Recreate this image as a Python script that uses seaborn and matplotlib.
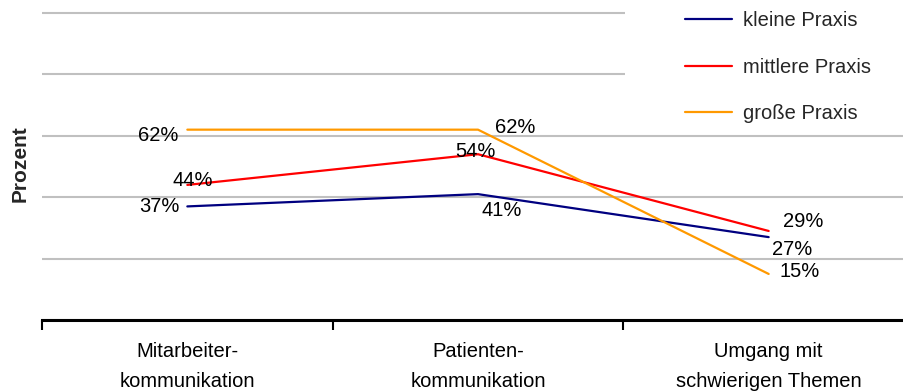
import matplotlib
matplotlib.use("Agg")
import matplotlib.pyplot as plt
from matplotlib.patches import Rectangle
from matplotlib.ticker import FixedLocator
import seaborn as sns
import pandas as pd

categories = ["Mitarbeiter-\nkommunikation", "Patienten-\nkommunikation", "Umgang mit\nschwierigen Themen"]
series_names = ["kleine Praxis", "mittlere Praxis", "große Praxis"]
kleine = [37, 41, 27]
mittlere = [44, 54, 29]
grosse = [62, 62, 15]
colors = ["#000080", "#FF0000", "#FF9900"]

# label offsets (pixels) for each series' value labels
label_offsets = {
    "kleine Praxis": [(-28, 0), (24, -16), (23, -12)],
    "mittlere Praxis": [(5, 4), (-3, 3), (35, 9)],
    "große Praxis": [(-29, -6), (37, 2), (31, 2)],
}

values = {"kleine Praxis": kleine, "mittlere Praxis": mittlere, "große Praxis": grosse}
rows = []
for name in series_names:
    for cat, v in zip(categories, values[name]):
        rows.append({"Kategorie": cat, "Prozent": v, "Praxis": name})
df = pd.DataFrame(rows)

sns.set_style("white")
plt.rcParams["font.family"] = ["Liberation Sans", "DejaVu Sans"]

W, H = 904, 392
fig = plt.figure(figsize=(W / 100, H / 100), dpi=100)
ymax = 102
px_per_unit = 3.07
top_px = 320 - ymax * px_per_unit
ax = fig.add_axes([42 / W, (H - 320) / H, 872 / W, (320 - top_px) / H])

sns.lineplot(data=df, x="Kategorie", y="Prozent", hue="Praxis", hue_order=series_names,
             palette=colors, sort=False, linewidth=1.6, ax=ax, legend=False, zorder=3)

ax.set_xlim(-0.5, 2.5)
ax.set_ylim(0, ymax)
ax.set_yticks([0, 20, 40, 60, 80, 100])
ax.set_yticklabels([])
ax.tick_params(axis="y", length=0)
ax.set_axisbelow(True)
ax.grid(axis="y", color="#C0C0C0", linewidth=1.5)
ax.grid(axis="x", visible=False)

for s in ["top", "right", "left"]:
    ax.spines[s].set_visible(False)
ax.spines["bottom"].set_color("black")
ax.spines["bottom"].set_linewidth(2.2)

ax.set_xticks(range(len(categories)))
ax.set_xticklabels(categories, fontsize=14.5, linespacing=1.75)
ax.tick_params(axis="x", which="major", length=0, pad=15.5, colors="black")
ax.xaxis.set_minor_locator(FixedLocator([-0.5, 0.5, 1.5, 2.5]))
ax.tick_params(axis="x", which="minor", bottom=True, length=7, width=1.5,
               color="black", direction="out")

ax.set_xlabel("")
ax.set_ylabel("Prozent", fontsize=15, fontweight="bold")
ax.yaxis.set_label_coords(-0.0138, 0.5)

for name in series_names:
    for i, v in enumerate(values[name]):
        dx, dy = label_offsets[name][i]
        ax.annotate(f"{v}%", xy=(i, v), xytext=(dx, dy), textcoords="offset pixels",
                    ha="center", va="center", fontsize=14.5, color="black", zorder=4)

# white background behind the legend
fig.patches.append(Rectangle((625 / W, 1 - 128 / H), 0.4, 0.4, transform=fig.transFigure,
                             facecolor="white", edgecolor="none", zorder=1))

handles = [plt.Line2D([], [], color=c, linewidth=1.6) for c in colors]
fig.legend(handles, series_names, loc="upper left", bbox_to_anchor=(685 / W, 1 - 11 / H),
           frameon=False, fontsize=14.5, handlelength=2.35, handletextpad=0.55,
           labelspacing=1.37, borderpad=0, borderaxespad=0)

fig.savefig("out.png", dpi=100)
